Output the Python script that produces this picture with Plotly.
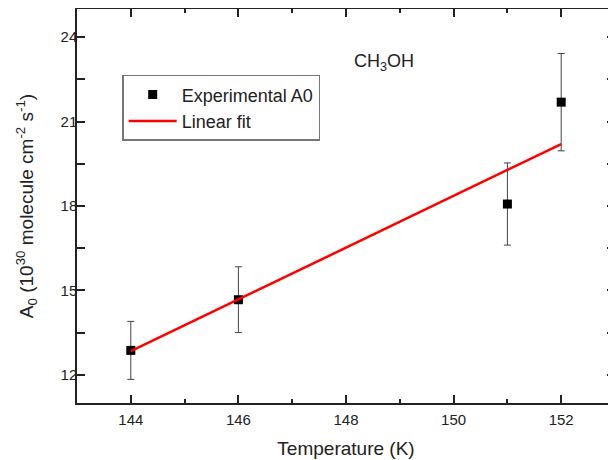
import plotly.graph_objects as go

# Data
temperature = [144, 146, 151, 152]
a0_values = [12.87, 14.67, 18.07, 21.69]
a0_errors = [1.03, 1.17, 1.46, 1.73]

fit_temperature = [144, 152]
fit_a0 = [12.84, 20.20]

x_ticks = [144, 146, 148, 150, 152]
y_ticks = [12, 15, 18, 21, 24]

FONT = "Arial, Liberation Sans, sans-serif"

fig = go.Figure()

fig.add_trace(go.Scatter(
    x=temperature, y=a0_values, mode="markers",
    name="Experimental A0",
    marker=dict(symbol="square", size=9, color="black"),
    error_y=dict(type="data", array=a0_errors, visible=True,
                 color="#444444", thickness=1, width=3.5),
))

fig.add_trace(go.Scatter(
    x=fit_temperature, y=fit_a0, mode="lines",
    name="Linear fit",
    line=dict(color="#ff0000", width=2.5),
))

axis_common = dict(
    showgrid=False, zeroline=False,
    showline=True, linecolor="#222222", linewidth=1.5,
    mirror="allticks", ticks="inside", ticklen=8, tickwidth=1.5,
    tickcolor="#222222",
    tickfont=dict(family=FONT, size=15, color="#222222"),
)

fig.update_xaxes(
    range=[143, 153], tickvals=x_ticks,
    minor=dict(dtick=1, ticks="inside", ticklen=4, tickwidth=1.5, tickcolor="#222222"),
    title=dict(text="Temperature (K)", font=dict(family=FONT, size=19, color="#222222"), standoff=15),
    ticklabelstandoff=2,
    **axis_common,
)

fig.update_yaxes(
    range=[11, 25], tickvals=y_ticks,
    minor=dict(dtick=1.5, tick0=12, ticks="inside", ticklen=8, tickwidth=1.5, tickcolor="#222222"),
    title=dict(text="A<sub>0</sub> (10<sup>30</sup> molecule cm<sup>-2</sup> s<sup>-1</sup>)",
               font=dict(family=FONT, size=19, color="#222222"), standoff=22),
    ticklabelstandoff=-5,
    **axis_common,
)

fig.add_annotation(
    x=148.7, y=23.1, xref="x", yref="y",
    text="CH<sub>3</sub>OH", showarrow=False,
    font=dict(family=FONT, size=18, color="#222222"),
)

# The page body adds an 8 px offset, so the figure is sized to fit the window
fig.update_layout(
    width=608, height=452,
    margin=dict(l=69, r=1, t=1, b=57, autoexpand=False),
    paper_bgcolor="white", plot_bgcolor="white",
    showlegend=True,
    legend=dict(
        x=0.084, y=0.833, xanchor="left", yanchor="top",
        bgcolor="white", bordercolor="#777777", borderwidth=1.5,
        font=dict(family=FONT, size=18, color="#222222"),
        tracegroupgap=0, itemwidth=48,
    ),
)

fig.write_html("out.html")
